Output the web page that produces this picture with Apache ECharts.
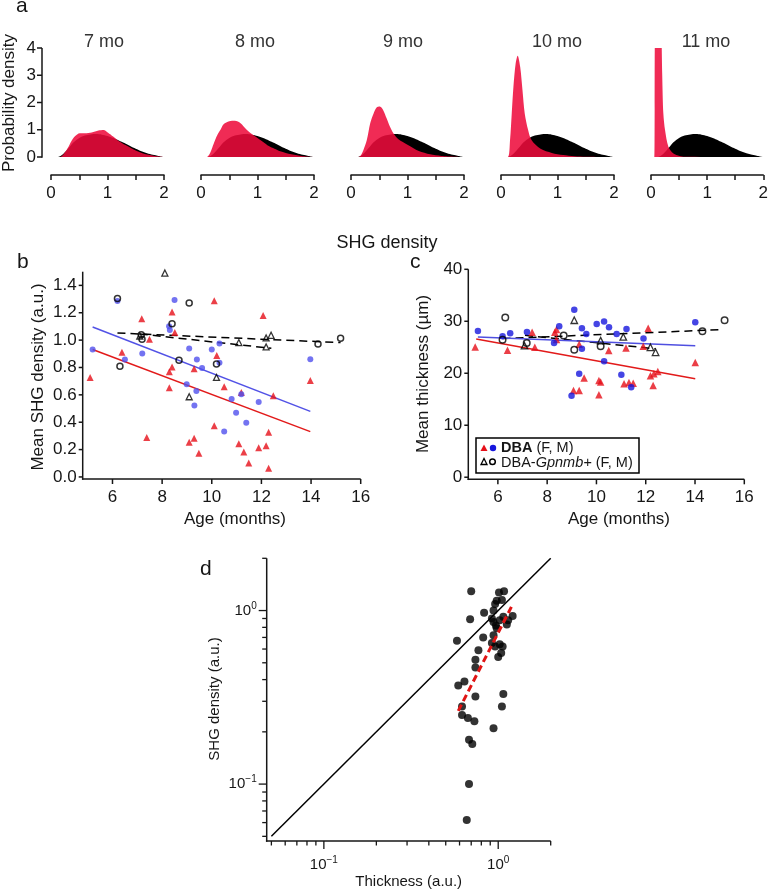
<!DOCTYPE html>
<html><head><meta charset="utf-8">
<script src="https://cdn.jsdelivr.net/npm/echarts@6/dist/echarts.min.js"></script>
<style>html,body{margin:0;padding:0;background:#fff}#c{width:771px;height:892px}</style>
</head><body><div id="c"></div>
<script>
// ---------- Panel a: SHG density distributions ----------
const monthLabels = ['7 mo', '8 mo', '9 mo', '10 mo', '11 mo'];
const refX = [0, 0.1, 0.15, 0.2, 0.25, 0.3, 0.35, 0.4, 0.5, 0.6, 0.7, 0.8, 0.9, 1.0, 1.1, 1.2, 1.3, 1.4, 1.5, 1.6, 1.7, 1.8, 1.9, 2.0];
const refY = [0, 0, 0.02, 0.08, 0.18, 0.3, 0.42, 0.54, 0.7, 0.79, 0.83, 0.84, 0.82, 0.77, 0.7, 0.61, 0.51, 0.4, 0.3, 0.21, 0.14, 0.08, 0.04, 0.01];
const red7X = [0, 0.12, 0.19, 0.25, 0.31, 0.36, 0.42, 0.51, 0.6, 0.72, 0.84, 0.93, 1.01, 1.1, 1.19, 1.31, 1.49, 1.66, 1.84, 2.0];
const red7Y = [0, 0, 0.03, 0.18, 0.38, 0.58, 0.75, 0.87, 0.87, 0.9, 0.97, 0.99, 0.89, 0.75, 0.6, 0.45, 0.25, 0.11, 0.04, 0];
const red8X = [0, 0.1, 0.15, 0.2, 0.25, 0.3, 0.35, 0.4, 0.5, 0.6, 0.7, 0.8, 0.9, 1.0, 1.1, 1.2, 1.3, 1.4, 1.5, 1.6, 1.7, 1.8, 2.0];
const red8Y = [0, 0, 0.1, 0.35, 0.62, 0.85, 1.02, 1.2, 1.31, 1.33, 1.24, 1.02, 0.84, 0.7, 0.55, 0.4, 0.3, 0.21, 0.15, 0.1, 0.06, 0.03, 0.01];
const red9X = [0, 0.12, 0.17, 0.22, 0.28, 0.34, 0.4, 0.45, 0.51, 0.57, 0.63, 0.69, 0.75, 0.84, 1.0, 1.2, 1.4, 1.6, 2.0];
const red9Y = [0, 0, 0.05, 0.26, 0.62, 1.24, 1.6, 1.81, 1.85, 1.72, 1.42, 1.11, 0.87, 0.65, 0.45, 0.22, 0.1, 0.04, 0];
const red10X = [0, 0.12, 0.16, 0.19, 0.22, 0.26, 0.295, 0.34, 0.38, 0.42, 0.48, 0.54, 0.7, 0.9, 1.1, 1.3, 1.5, 2.0];
const red10Y = [0, 0, 0.62, 1.6, 2.58, 3.44, 3.72, 3.3, 2.46, 1.6, 0.99, 0.62, 0.3, 0.15, 0.07, 0.03, 0.01, 0];
const red11X = [0, 0.06, 0.07, 0.1, 0.14, 0.18, 0.2, 0.22, 0.25, 0.31, 0.4, 0.51, 0.6, 2.0];
const red11Y = [0, 0, 4.6, 5.4, 5.6, 4.8, 3.0, 1.6, 0.99, 0.38, 0.13, 0.04, 0.01, 0];
const redXs = [red7X, red8X, red9X, red10X, red11X];
const redYs = [red7Y, red8Y, red9Y, red10Y, red11Y];
const aYTicks = [0, 1, 2, 3, 4];

// ---------- Panel b: Mean SHG density vs age ----------
const bDbaFAge = [5.1, 6.38, 7.18, 7.49, 7.38, 8.29, 8.29, 8.40, 8.40, 8.51, 9.29, 9.29, 9.09, 9.48, 10.10, 10.20, 10.10, 10.50, 11.09, 11.19, 11.29, 11.49, 11.89, 12.07, 12.19, 12.29, 12.29, 12.48, 13.97];
const bDbaFVal = [0.727, 0.911, 1.157, 1.006, 0.289, 0.651, 0.768, 1.205, 0.804, 1.055, 0.79, 0.282, 0.253, 0.173, 1.288, 0.887, 0.374, 0.659, 0.243, 0.617, 0.182, 0.102, 0.214, 1.179, 0.228, 0.326, 0.063, 0.593, 0.705];
const bDbaMAge = [5.20, 6.20, 6.50, 7.20, 8.31, 8.28, 8.50, 9.09, 9.40, 9.61, 8.99, 9.38, 9.30, 10.00, 10.31, 10.31, 10.80, 11.19, 10.98, 10.50, 11.39, 11.89, 13.97];
const bDbaMVal = [0.931, 1.286, 0.858, 0.902, 1.074, 1.101, 1.293, 0.938, 0.858, 0.797, 0.678, 0.629, 0.523, 0.931, 0.975, 0.834, 0.569, 0.605, 0.469, 0.333, 0.396, 0.547, 0.860];
const bGpMAge = [6.20, 6.30, 7.16, 7.19, 8.40, 8.68, 9.09, 10.19, 14.28, 15.19];
const bGpMVal = [1.305, 0.809, 1.040, 1.006, 1.120, 0.853, 1.271, 0.826, 0.972, 1.013];
const bGpFAge = [8.11, 7.10, 10.19, 9.09, 11.09, 12.19, 12.39, 12.19];
const bGpFVal = [1.49, 1.03, 0.727, 0.586, 0.982, 1.016, 1.035, 0.950];
const bFitDbaFX = [5.2, 13.97], bFitDbaFY = [0.931, 0.331];
const bFitDbaMX = [5.2, 13.97], bFitDbaMY = [1.096, 0.479];
const bFitGpMX = [6.2, 15.19], bFitGpMY = [1.052, 0.982];
const bFitGpFX = [7.1, 12.4], bFitGpFY = [1.045, 0.94];
const bYTicks = [0, 0.2, 0.4, 0.6, 0.8, 1.0, 1.2, 1.4];
const ageTicks = [6, 8, 10, 12, 14, 16];

// ---------- Panel c: Mean thickness vs age ----------
const cDbaFAge = [5.08, 6.39, 7.39, 7.50, 8.31, 8.38, 8.38, 9.30, 9.07, 9.30, 9.50, 10.10, 10.17, 10.10, 10.50, 11.20, 11.12, 11.32, 11.49, 11.90, 12.10, 12.19, 12.33, 12.30, 12.49, 14.01];
const cDbaFVal = [25.06, 24.41, 27.89, 24.99, 27.89, 28.4, 26.5, 25.6, 16.7, 16.7, 19.07, 18.6, 18.3, 15.85, 24.4, 24.86, 17.97, 18.23, 18.1, 25.18, 28.66, 19.52, 19.9, 17.65, 20.35, 22.09];
const cDbaMAge = [5.19, 6.19, 6.50, 7.18, 8.28, 8.49, 9.10, 9.41, 9.41, 9.59, 9.30, 8.99, 10.01, 10.31, 10.31, 10.51, 10.82, 11.22, 11.01, 11.41, 11.91, 14.01];
const cDbaMVal = [28.15, 27.12, 27.70, 27.96, 25.83, 29.05, 32.2, 28.66, 24.73, 27.57, 19.9, 15.65, 29.5, 29.95, 22.29, 28.86, 27.57, 28.53, 19.71, 17.33, 26.67, 29.82];
const cGpMAge = [6.30, 6.19, 7.17, 8.67, 9.10, 10.17, 14.30, 15.20];
const cGpMVal = [30.72, 26.47, 25.8, 27.25, 24.54, 25.18, 28.08, 30.2];
const cGpFAge = [7.08, 9.10, 10.17, 11.09, 12.19, 12.40];
const cGpFVal = [25.3, 30.2, 26.28, 26.99, 24.99, 24.03];
const cFitDbaFX = [5.12, 14.01], cFitDbaFY = [26.6, 18.94];
const cFitDbaMX = [5.19, 14.01], cFitDbaMY = [26.99, 25.31];
const cFitGpMX = [6.19, 15.1], cFitGpMY = [26.67, 28.4];
const cFitGpFX = [7.1, 12.4], cFitGpFY = [27.3, 24.7];
const cYTicks = [0, 10, 20, 30, 40];

// ---------- Panel d: SHG density vs thickness (log-log) ----------
const dThick = [0.70, 0.69, 0.58, 0.83, 0.82, 1.01, 1.08, 0.98, 0.96, 1.05, 0.94, 0.92, 0.94, 0.98, 1.02, 1.07, 1.14, 1.21, 1.12, 0.94, 0.92, 0.96, 1.02, 1.06, 1.00, 1.04, 0.77, 0.74, 0.74, 0.64, 0.59, 0.74, 0.62, 0.62, 0.67, 0.73, 0.94, 1.07, 1.05, 0.68, 0.71, 0.68, 0.66, 0.97];
const dShg = [1.29, 0.89, 0.67, 0.97, 0.70, 1.27, 1.29, 1.14, 1.09, 1.15, 1.00, 0.90, 0.86, 0.79, 0.88, 0.92, 0.88, 0.93, 0.83, 0.72, 0.65, 0.62, 0.64, 0.62, 0.54, 0.57, 0.59, 0.52, 0.47, 0.39, 0.37, 0.32, 0.28, 0.25, 0.24, 0.23, 0.21, 0.33, 0.28, 0.18, 0.17, 0.10, 0.062, 0.82];
const dIdentX = [0.05, 2], dIdentY = [0.05, 2];
const dFitX = [0.59, 1.19], dFitY = [0.264, 1.05];
const dTickVals = [0.05, 0.06, 0.07, 0.08, 0.09, 0.1, 0.2, 0.3, 0.4, 0.5, 0.6, 0.7, 0.8, 0.9, 1, 2];

// ---------- build ----------
const zip = (xs, ys) => xs.map((x, i) => [x, ys[i]]);
const FONT = 'Liberation Sans, Arial, sans-serif';
const INK = '#161616';
const RED_FILL = 'rgb(238,12,60)';
const chart = echarts.init(document.getElementById('c'), null, {renderer: 'canvas'});
const isPow10 = v => Math.abs(Math.log10(v) - Math.round(Math.log10(v))) < 1e-6;

const series = [];
const grids = [], xAxes = [], yAxes = [];
for (let i = 0; i < 5; i++) {
  grids.push({left: 51 + 150 * i, top: 48, width: 113, height: 109});
  xAxes.push({gridIndex: i, type: 'value', min: 0, max: 2, interval: 0.5, offset: 18,
    axisLine: {show: true, onZero: false, lineStyle: {color: INK, width: 1.5}},
    axisTick: {show: true, length: 5, lineStyle: {color: INK, width: 1.5}},
    axisLabel: {formatter: v => Number.isInteger(v) ? String(v) : '', fontSize: 17, margin: 10, color: INK, fontFamily: FONT},
    splitLine: {show: false}});
  const ya = {gridIndex: i, type: 'value', min: 0, max: 4, interval: 1, splitLine: {show: false},
    axisLine: {show: false}, axisTick: {show: false}};
  if (i === 0) {
    Object.assign(ya, {axisLabel: {fontSize: 17, margin: 15, color: INK, fontFamily: FONT}});
  } else {
    Object.assign(ya, {show: false});
  }
  yAxes.push(ya);
  series.push({type: 'line', xAxisIndex: i, yAxisIndex: i, data: zip(refX, refY), symbol: 'none', smooth: 0.3,
    lineStyle: {width: 0}, areaStyle: {color: '#000', opacity: 1}, silent: true, z: 2});
  series.push({type: 'line', xAxisIndex: i, yAxisIndex: i, data: zip(redXs[i], redYs[i]), symbol: 'none', smooth: 0.3,
    lineStyle: {width: 0}, areaStyle: {color: RED_FILL, opacity: 0.87}, silent: true, z: 3});
}

// panel b (index 5) and c (index 6)
const ageAxis = (g) => ({gridIndex: g, type: 'value', min: 4.8, max: 16,
  axisLine: {show: false}, axisTick: {show: false},
  axisLabel: {customValues: ageTicks, fontSize: 17, margin: 10, color: INK, fontFamily: FONT},
  splitLine: {show: false}});
grids.push({left: 82.7, top: 271.7, width: 278, height: 207.3});
xAxes.push(ageAxis(5));
yAxes.push({gridIndex: 5, type: 'value', min: -0.015, max: 1.5,
  axisLine: {show: false}, axisTick: {show: false},
  axisLabel: {customValues: bYTicks, formatter: v => v.toFixed(1), fontSize: 17, margin: 6, color: INK, fontFamily: FONT},
  splitLine: {show: false}});
grids.push({left: 468.3, top: 269.3, width: 276, height: 210});
xAxes.push(ageAxis(6));
yAxes.push({gridIndex: 6, type: 'value', min: -0.4, max: 40,
  axisLine: {show: false}, axisTick: {show: false},
  axisLabel: {customValues: cYTicks, fontSize: 17, margin: 6, color: INK, fontFamily: FONT},
  splitLine: {show: false}});

function agePanel(g, P, blue, sz) {
  const line = (xs, ys, color, dashed) => ({type: 'line', xAxisIndex: g, yAxisIndex: g, data: zip(xs, ys), symbol: 'none',
    lineStyle: {color, width: 1.5, type: dashed ? [8, 5] : 'solid'}, silent: true, z: 3});
  series.push(line(P.fitGpMX, P.fitGpMY, '#000', true));
  series.push(line(P.fitGpFX, P.fitGpFY, '#000', true));
  series.push({type: 'scatter', xAxisIndex: g, yAxisIndex: g, data: zip(P.fAge, P.fVal), symbol: 'triangle', symbolSize: sz + 1,
    itemStyle: {color: '#e60f19'}, z: 4});
  series.push({type: 'scatter', xAxisIndex: g, yAxisIndex: g, data: zip(P.mAge, P.mVal), symbol: 'circle', symbolSize: sz,
    itemStyle: {color: blue}, z: 4});
  series.push({type: 'scatter', xAxisIndex: g, yAxisIndex: g, data: zip(P.gfAge, P.gfVal), symbol: 'triangle', symbolSize: sz,
    itemStyle: {color: 'rgba(0,0,0,0)', borderColor: '#000', borderWidth: 1.3}, z: 5});
  series.push({type: 'scatter', xAxisIndex: g, yAxisIndex: g, data: zip(P.gmAge, P.gmVal), symbol: 'circle', symbolSize: sz,
    itemStyle: {color: 'rgba(0,0,0,0)', borderColor: '#000', borderWidth: 1.5}, z: 5});
  series.push(line(P.fitMX, P.fitMY, P.blueLine, false));
  series.push(line(P.fitFX, P.fitFY, '#e21a1a', false));
}
agePanel(5, {fAge: bDbaFAge, fVal: bDbaFVal, mAge: bDbaMAge, mVal: bDbaMVal, gfAge: bGpFAge, gfVal: bGpFVal, gmAge: bGpMAge, gmVal: bGpMVal,
  fitFX: bFitDbaFX, fitFY: bFitDbaFY, fitMX: bFitDbaMX, fitMY: bFitDbaMY, fitGpMX: bFitGpMX, fitGpMY: bFitGpMY, fitGpFX: bFitGpFX, fitGpFY: bFitGpFY,
  blueLine: '#5252e6'}, '#5050ee', 6);
agePanel(6, {fAge: cDbaFAge, fVal: cDbaFVal, mAge: cDbaMAge, mVal: cDbaMVal, gfAge: cGpFAge, gfVal: cGpFVal, gmAge: cGpMAge, gmVal: cGpMVal,
  fitFX: cFitDbaFX, fitFY: cFitDbaFY, fitMX: cFitDbaMX, fitMY: cFitDbaMY, fitGpMX: cFitGpMX, fitGpMY: cFitGpMY, fitGpFX: cFitGpFX, fitGpFY: cFitGpFY,
  blueLine: '#4f4fe0'}, '#1616dd', 6.5);

// panel d (index 7)
const dMin = 0.047, dMax = 2;
const powLabel = v => {
  if (!isPow10(v)) return '';
  const e = Math.round(Math.log10(v));
  return '{m|10}{s|' + (e < 0 ? '\u2212' + (-e) : e) + '}';
};
const powRich = {m: {fontSize: 15, color: INK, fontFamily: FONT}, s: {fontSize: 10, color: INK, fontFamily: FONT, padding: [0, 0, 9, 0]}};
grids.push({left: 266.7, top: 558.3, width: 284, height: 282.7});
xAxes.push({gridIndex: 7, type: 'log', logBase: 10, min: dMin, max: dMax,
  axisLine: {show: false}, axisTick: {show: false},
  axisLabel: {formatter: powLabel, rich: powRich, margin: 14, showMinLabel: false, showMaxLabel: false},
  splitLine: {show: false}, minorTick: {show: false}});
yAxes.push({gridIndex: 7, type: 'log', logBase: 10, min: dMin, max: dMax,
  axisLine: {show: false}, axisTick: {show: false},
  axisLabel: {formatter: powLabel, rich: powRich, margin: 10, showMinLabel: false, showMaxLabel: false},
  splitLine: {show: false}});
series.push({type: 'line', xAxisIndex: 7, yAxisIndex: 7, data: zip(dIdentX, dIdentY), symbol: 'none',
  lineStyle: {color: '#000', width: 1.5}, silent: true, z: 2});
series.push({type: 'scatter', xAxisIndex: 7, yAxisIndex: 7, data: zip(dThick, dShg), symbol: 'circle', symbolSize: 8,
  itemStyle: {color: '#000'}, z: 3});
series.push({type: 'line', xAxisIndex: 7, yAxisIndex: 7, data: zip(dFitX, dFitY), symbol: 'none',
  lineStyle: {color: '#e01414', width: 3, type: [7, 4]}, silent: true, z: 4});

// ---------- text and legend graphics ----------
const gText = (text, x, y, size, extra) => Object.assign({type: 'text', x, y, silent: true,
  style: Object.assign({text, fontSize: size, fill: INK, fontFamily: FONT, verticalAlign: 'middle'}, extra || {})});
const vText = (text, x, y, size) => ({type: 'text', x, y, rotation: Math.PI / 2, silent: true,
  style: {text, fontSize: size, fill: INK, fontFamily: FONT, align: 'center', verticalAlign: 'middle'}});
const titleX = [104, 255, 403, 557, 706];
const graphics = [
  gText('a', 16, 6, 21), gText('b', 17, 262, 21), gText('c', 410, 262, 21), gText('d', 200, 569, 21),
  gText('SHG density', 387, 243, 18, {align: 'center'}),
  vText('Probability density', 9, 103, 17),
  vText('Mean SHG density (a.u.)', 38, 377, 17),
  vText('Mean thickness (µm)', 423, 374, 17),
  vText('SHG density (a.u.)', 215, 699, 15),
  gText('Age (months)', 235, 519, 17, {align: 'center'}),
  gText('Age (months)', 619, 519, 17, {align: 'center'}),
  gText('Thickness (a.u.)', 408.7, 882, 15, {align: 'center'})
];
monthLabels.forEach((t, i) => graphics.push(gText(t, titleX[i], 42, 18, {align: 'center', fill: '#333'})));

// ---------- axis frames (thin filled rects), mapped with each grid's axis extents ----------
function frame(c) {
  const lin = (v, a, b) => c.log ? (Math.log10(v) - Math.log10(a)) / (Math.log10(b) - Math.log10(a)) : (v - a) / (b - a);
  const P = (x, y) => [c.left + lin(x, c.xMin, c.xMax) * c.width, c.top + c.height - lin(y, c.yMin, c.yMax) * c.height];
  const els = [];
  const o = P(c.xMin, c.yMin), tr = P(c.xMax, c.yMax);
  const yx = o[0] - (c.yOffset || 0);
  const tw = c.tickW || 1.5;
  const R = (x, y, w, h) => ({type: 'rect', z: 20, silent: true, shape: {x, y, width: w, height: h}, style: {fill: INK, stroke: null}});
  if (c.yAxis !== false) {
    els.push(R(yx - 0.75, tr[1], 1.5, o[1] - tr[1] + 0.75));
    c.yTicks.forEach(v => {
      const py = P(c.xMin, v)[1], len = c.yLen ? c.yLen(v) : 4;
      els.push(R(yx - len, py - tw / 2, len, tw));
    });
  }
  if (c.xAxis !== false) {
    els.push(R(o[0] - 0.75, o[1] - 0.75, tr[0] - o[0] + 0.75, 1.5));
    c.xTicks.forEach(v => {
      const px = P(v, c.yMin)[0], len = c.xLen ? c.xLen(v) : 5;
      els.push(R(px - tw / 2, o[1], tw, len));
    });
  }
  return els;
}
const dLen = v => (isPow10(v) ? 8 : 4.5);
[
  {left: 51, top: 48, width: 113, height: 109, xMin: 0, yMin: 0, xMax: 2, yMax: 4, xAxis: false, yOffset: 9, yTicks: aYTicks, yLen: () => 5},
  {left: 82.7, top: 271.7, width: 278, height: 207.3, xMin: 4.8, yMin: -0.015, xMax: 16, yMax: 1.5, xTicks: ageTicks, yTicks: bYTicks},
  {left: 468.3, top: 269.3, width: 276, height: 210, xMin: 4.8, yMin: -0.4, xMax: 16, yMax: 40, xTicks: ageTicks, yTicks: cYTicks},
  {left: 266.7, top: 558.3, width: 284, height: 282.7, log: true, xMin: dMin, yMin: dMin, xMax: dMax, yMax: dMax,
    xTicks: dTickVals, yTicks: dTickVals, xLen: dLen, yLen: dLen, tickW: 1.3}
].forEach(c => frame(c).forEach(e => graphics.push(e)));

graphics.push({type: 'rect', shape: {x: 476, y: 438, width: 163, height: 35}, style: {fill: '#fff', stroke: '#000', lineWidth: 1.5}, z: 30});
graphics.push({type: 'polygon', shape: {points: [[484, 444.5], [480.5, 451], [487.5, 451]]}, style: {fill: '#e60f19'}, z: 31});
graphics.push({type: 'circle', shape: {cx: 493, cy: 448, r: 3.2}, style: {fill: '#1616dd'}, z: 31});
graphics.push({type: 'polygon', shape: {points: [[484, 458.5], [481, 464.5], [487, 464.5]]}, style: {fill: 'none', stroke: '#000', lineWidth: 1.3}, z: 31});
graphics.push({type: 'circle', shape: {cx: 492.5, cy: 461.8, r: 2.8}, style: {fill: 'none', stroke: '#000', lineWidth: 1.5}, z: 31});
graphics.push({type: 'text', x: 501, y: 448, z: 31, style: {text: '{b|DBA} (F, M)', fontSize: 14.5, fill: INK, fontFamily: FONT, verticalAlign: 'middle',
  rich: {b: {fontWeight: 'bold', fontSize: 14.5, fontFamily: FONT, fill: INK}}}});
graphics.push({type: 'text', x: 501, y: 462.5, z: 31, style: {text: 'DBA-{i|Gpnmb+} (F, M)', fontSize: 14.5, fill: INK, fontFamily: FONT, verticalAlign: 'middle',
  rich: {i: {fontStyle: 'italic', fontSize: 14.5, fontFamily: FONT, fill: INK}}}});

chart.setOption({
  animation: false,
  backgroundColor: '#fff',
  textStyle: {fontFamily: FONT},
  grid: grids, xAxis: xAxes, yAxis: yAxes, series,
  graphic: {elements: graphics}
});
</script></body></html>
